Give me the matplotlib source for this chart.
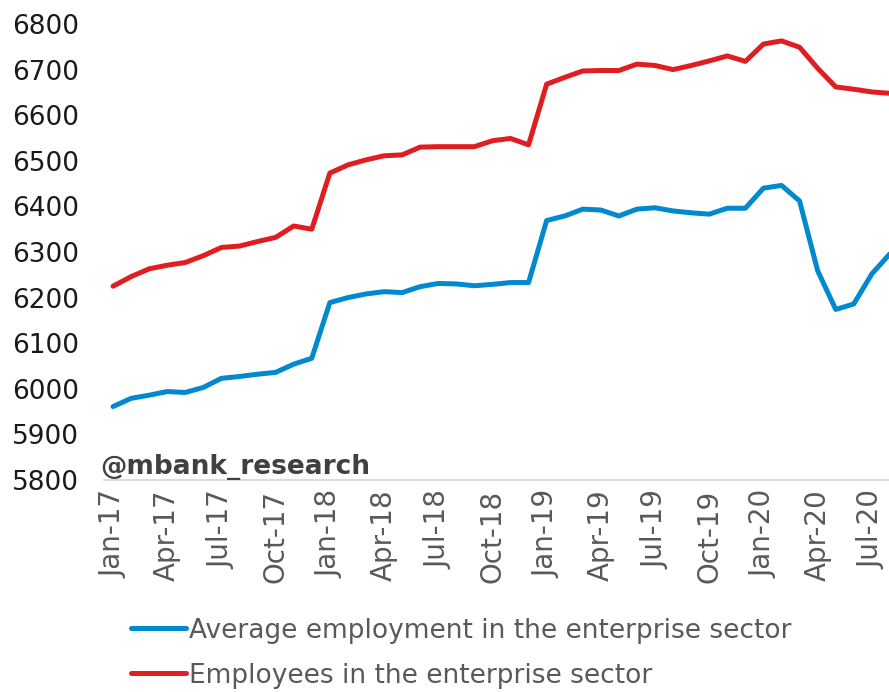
import numpy as np
import matplotlib
matplotlib.use("Agg")
import matplotlib.pyplot as plt

# monthly series, Jan-17 .. Aug-20 (thousands)
months = ["Jan-17", "Feb-17", "Mar-17", "Apr-17", "May-17", "Jun-17", "Jul-17", "Aug-17",
          "Sep-17", "Oct-17", "Nov-17", "Dec-17", "Jan-18", "Feb-18", "Mar-18", "Apr-18",
          "May-18", "Jun-18", "Jul-18", "Aug-18", "Sep-18", "Oct-18", "Nov-18", "Dec-18",
          "Jan-19", "Feb-19", "Mar-19", "Apr-19", "May-19", "Jun-19", "Jul-19", "Aug-19",
          "Sep-19", "Oct-19", "Nov-19", "Dec-19", "Jan-20", "Feb-20", "Mar-20", "Apr-20",
          "May-20", "Jun-20", "Jul-20", "Aug-20"]

avg_employment = [5961, 5979, 5986, 5994, 5992, 6003, 6023, 6027, 6032, 6036, 6054, 6067,
                  6189, 6200, 6208, 6213, 6211, 6224, 6231, 6230, 6226, 6229, 6233, 6233,
                  6369, 6379, 6394, 6392, 6379, 6394, 6397, 6390, 6386, 6383, 6396, 6396,
                  6440, 6446, 6412, 6259, 6174, 6186, 6252, 6296]

employees = [6225, 6246, 6263, 6271, 6277, 6292, 6310, 6313, 6323, 6332, 6357, 6350,
             6473, 6491, 6502, 6511, 6513, 6530, 6531, 6531, 6531, 6544, 6549, 6535,
             6668, 6683, 6697, 6698, 6698, 6712, 6709, 6700, 6709, 6719, 6730, 6718,
             6756, 6763, 6749, 6703, 6662, 6657, 6651, 6648]

label_avg = "Average employment in the enterprise sector"
label_emp = "Employees in the enterprise sector"

plt.rcParams['font.family'] = ['DejaVu Sans']

fig = plt.figure(figsize=(8.89, 6.92), dpi=100)
ax = fig.add_axes([104 / 889, 1 - 480 / 692, 1 - 104 / 889, 456 / 692])

x = np.arange(len(months))
ax.plot(x, avg_employment, color='#0089CF', lw=3.6, label=label_avg, solid_capstyle='round')
ax.plot(x, employees, color='#E01E22', lw=3.6, label=label_emp, solid_capstyle='round')

ax.set_xlim(-0.5, len(months) - 1 + 0.5 - 0.55)
ax.set_ylim(5800, 6800)
ax.set_yticks(np.arange(5800, 6801, 100))
ax.set_xticks(x[::3])
ax.set_xticklabels(months[::3], rotation=90, color='#595959', fontsize=20)
ax.tick_params(axis='x', length=0, pad=7)
ax.tick_params(axis='y', length=0, pad=18, labelsize=19, labelcolor='#1a1a1a')

for s in ['top', 'right', 'left']:
    ax.spines[s].set_visible(False)
ax.spines['bottom'].set_color('#D9D9D9')
ax.spines['bottom'].set_linewidth(1.3)

ax.text(100 / 889, 1 - 467 / 692, "@mbank_research", transform=fig.transFigure,
        fontsize=19, fontweight='bold', color='#404040', va='center', ha='left')

leg = fig.legend(loc='upper left', bbox_to_anchor=(120 / 889, 1 - 607 / 692),
                 frameon=False, fontsize=19, handlelength=2.1, handletextpad=0.1,
                 labelspacing=0.72, borderaxespad=0)
for t in leg.get_texts():
    t.set_color('#595959')

fig.savefig("out.png", dpi=100)
